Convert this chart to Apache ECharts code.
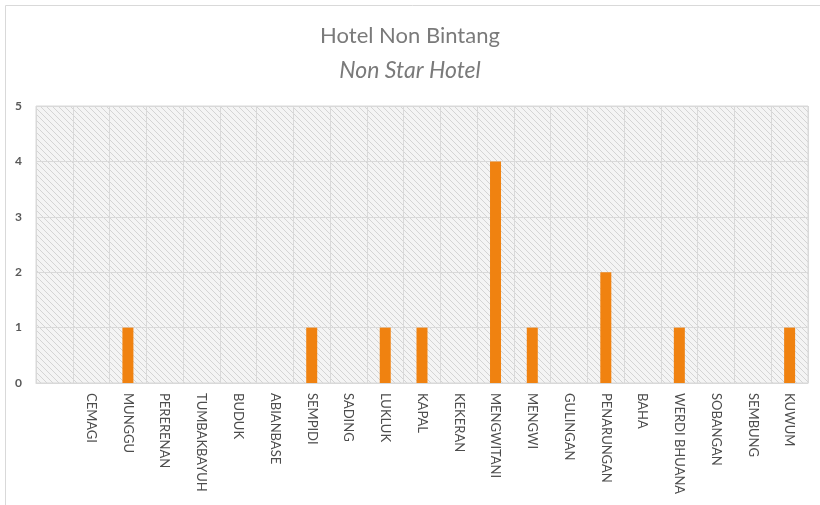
<!DOCTYPE html>
<html>
<head>
<meta charset="utf-8">
<script src="https://cdn.jsdelivr.net/npm/echarts@6/dist/echarts.min.js"></script>
<style>
  html, body { margin: 0; padding: 0; background: #fff; }
  #chart { width: 820px; height: 505px; }
</style>
</head>
<body>
<div id="chart"></div>
<script>
// data
var desa = ['', 'CEMAGI', 'MUNGGU', 'PERERENAN', 'TUMBAKBAYUH', 'BUDUK', 'ABIANBASE', 'SEMPIDI',
  'SADING', 'LUKLUK', 'KAPAL', 'KEKERAN', 'MENGWITANI', 'MENGWI', 'GULINGAN', 'PENARUNGAN',
  'BAHA', 'WERDI BHUANA', 'SOBANGAN', 'SEMBUNG', 'KUWUM'];
var jumlahHotel = [0, 0, 1, 0, 0, 0, 0, 1, 0, 1, 1, 0, 4, 1, 0, 2, 0, 1, 0, 0, 1];
var yTicks = [0, 1, 2, 3, 4, 5];

// hatch pattern for plot background
var pat = document.createElement('canvas');
pat.width = 6; pat.height = 6;
var ctx = pat.getContext('2d');
ctx.fillStyle = '#f4f4f4';
ctx.fillRect(0, 0, 6, 6);
ctx.strokeStyle = '#d4d4d4';
ctx.lineWidth = 1;
ctx.beginPath();
ctx.moveTo(-1, -1); ctx.lineTo(7, 7);
ctx.moveTo(-4, 2); ctx.lineTo(4, 10);
ctx.moveTo(2, -4); ctx.lineTo(10, 4);
ctx.stroke();

var chart = echarts.init(document.getElementById('chart'));
var option = {
  animation: false,
  title: {
    text: 'Hotel Non Bintang',
    subtext: 'Non Star Hotel',
    left: 'center',
    top: 20,
    itemGap: 12,
    textStyle: { fontFamily: 'Lato', fontSize: 22, fontWeight: 'normal', color: '#7a7a7a' },
    subtextStyle: { fontFamily: 'Lato', fontSize: 23, fontStyle: 'italic', color: '#7a7a7a' }
  },
  grid: {
    left: 36, right: 12, top: 106, bottom: 122,
    show: true,
    backgroundColor: { image: pat, repeat: 'repeat' },
    borderColor: '#d9d9d9',
    borderWidth: 1
  },
  graphic: [{
    type: 'polyline',
    shape: { points: [[5.5, 505], [5.5, 5.5], [820, 5.5]] },
    style: { stroke: '#d9d9d9', lineWidth: 1, fill: null }
  }],
  xAxis: {
    type: 'category',
    data: desa,
    axisLine: { lineStyle: { color: '#d9d9d9' } },
    axisTick: { show: false },
    splitLine: { show: true, lineStyle: { color: '#d9d9d9', width: 1 } },
    axisLabel: {
      interval: 0, rotate: -90, margin: 10,
      fontFamily: 'Lato', fontSize: 13, color: '#4d4d4d'
    }
  },
  yAxis: {
    type: 'value',
    min: yTicks[0], max: yTicks[yTicks.length - 1], interval: 1,
    axisLine: { show: false },
    axisTick: { show: false },
    splitLine: { lineStyle: { color: '#d9d9d9', width: 1 } },
    axisLabel: {
      margin: 14,
      fontFamily: 'Lato', fontSize: 12, fontWeight: 'bold', color: '#595959'
    }
  },
  series: [{
    type: 'bar',
    data: jumlahHotel,
    barWidth: 11,
    itemStyle: { color: '#f08210' }
  }]
};
chart.setOption(option);
</script>
</body>
</html>
